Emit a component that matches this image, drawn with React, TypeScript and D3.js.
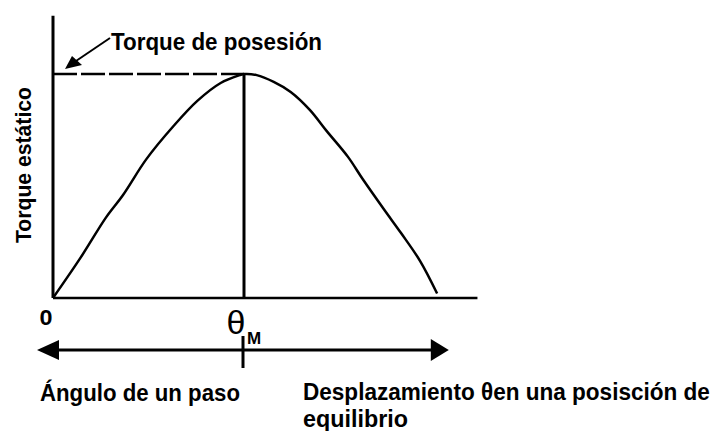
import React from "react";
import * as d3 from "d3";

// Static torque vs rotor displacement (electrical degrees), normalised to holding torque
const ANGLES = [0, 13, 25, 33, 44, 57, 68, 79, 88, 90, 96, 104, 112, 121, 129, 139, 146, 156, 164, 173, 181];
const TORQUE = [0, 0.18, 0.36, 0.46, 0.62, 0.77, 0.88, 0.96, 0.995, 1, 0.995, 0.965, 0.92, 0.84, 0.745, 0.63, 0.53, 0.395, 0.29, 0.165, 0.02];

const HOLDING_TORQUE = 1;
const THETA_M = 90;
const X_EXTENT = [0, 200];
const Y_EXTENT = [0, 1.26];

const LABEL_ZERO = "0";
const LABEL_HOLDING = "Torque de posesión";
const LABEL_Y = "Torque estático";
const LABEL_STEP = "Ángulo de un paso";
const LABEL_DISP_1 = "Desplazamiento θen una posisción de";
const LABEL_DISP_2 = "equilibrio";

const W = 721;
const H = 431;
const FONT = "'Liberation Sans', Arial, sans-serif";

export default function App() {
  const x = d3.scaleLinear().domain([0, 180]).range([53, 435]);
  const y = d3.scaleLinear().domain([0, HOLDING_TORQUE]).range([298, 74]);

  const pts = ANGLES.map((a, i) => [a, TORQUE[i]] as [number, number]);
  const line = d3
    .line<[number, number]>()
    .x((d) => x(d[0]))
    .y((d) => y(d[1]))
    .curve(d3.curveCatmullRom.alpha(0.5));

  const x0 = x(0);
  const xEnd = x(X_EXTENT[1]);
  const yBase = y(0);
  const yTop = y(Y_EXTENT[1]);
  const xm = x(THETA_M);
  const yh = y(HOLDING_TORQUE);

  // double-headed displacement arrow below the axis
  const arrowY = 350;
  const arrowL = x0 - 16;
  const arrowR = x(186.5);

  const textStyle = {
    fontFamily: FONT,
    fontWeight: 700,
    fill: "#000",
  } as const;

  return (
    <svg
      width={W}
      height={H}
      viewBox={`0 0 ${W} ${H}`}
      style={{ position: "absolute", left: 0, top: 0, background: "#fff" }}
    >
      <rect width={W} height={H} fill="#fff" />

      {/* axes */}
      <line x1={x0} y1={yTop} x2={x0} y2={yBase} stroke="#000" strokeWidth={3} />
      <line x1={x0} y1={yBase} x2={xEnd} y2={yBase} stroke="#000" strokeWidth={2.5} />

      {/* holding torque level */}
      <line x1={x0} y1={yh} x2={xm} y2={yh} stroke="#000" strokeWidth={2.5} strokeDasharray="24,4" />
      <line x1={xm} y1={yh} x2={xm} y2={yBase} stroke="#000" strokeWidth={3} />

      {/* torque curve */}
      <path d={line(pts) ?? ""} fill="none" stroke="#000" strokeWidth={2.5} strokeLinejoin="round" />

      {/* annotation arrow */}
      <line x1={110} y1={38} x2={76} y2={61} stroke="#000" strokeWidth={2} />
      <polygon points="65,69 72,56 82,65" fill="#000" />
      <text x={111} y={50} fontSize={24} textLength={211} lengthAdjust="spacingAndGlyphs" {...textStyle}>
        {LABEL_HOLDING}
      </text>

      {/* y label */}
      <text
        transform={`translate(31,165) rotate(-90)`}
        textAnchor="middle"
        fontSize={22}
        textLength={156}
        lengthAdjust="spacingAndGlyphs"
        {...textStyle}
      >
        {LABEL_Y}
      </text>

      {/* x markers */}
      <text x={46} y={325} textAnchor="middle" fontSize={22} textLength={13} lengthAdjust="spacingAndGlyphs" {...textStyle}>
        {LABEL_ZERO}
      </text>
      <text x={236} y={334} textAnchor="middle" fontSize={34} fontFamily={FONT} fill="#000">
        θ
      </text>
      <text x={247} y={344} fontSize={17} {...textStyle}>
        M
      </text>

      {/* displacement arrow */}
      <line x1={arrowL + 18} y1={arrowY} x2={arrowR - 16} y2={arrowY} stroke="#000" strokeWidth={3} />
      <polygon points={`${arrowL},${arrowY} ${arrowL + 22},${arrowY - 10} ${arrowL + 22},${arrowY + 10}`} fill="#000" />
      <polygon points={`${arrowR},${arrowY} ${arrowR - 18},${arrowY - 11} ${arrowR - 18},${arrowY + 11}`} fill="#000" />
      <line x1={xm - 1} y1={336} x2={xm - 1} y2={368} stroke="#000" strokeWidth={3} />

      {/* captions */}
      <text x={40} y={401} fontSize={24} textLength={200} lengthAdjust="spacingAndGlyphs" {...textStyle}>
        {LABEL_STEP}
      </text>
      <g transform="translate(303,400) scale(0.94,1)">
        <text x={0} y={0} fontSize={24} {...textStyle}>
          {LABEL_DISP_1}
        </text>
      </g>
      <text x={303} y={427} fontSize={24} textLength={105} lengthAdjust="spacingAndGlyphs" {...textStyle}>
        {LABEL_DISP_2}
      </text>
    </svg>
  );
}
